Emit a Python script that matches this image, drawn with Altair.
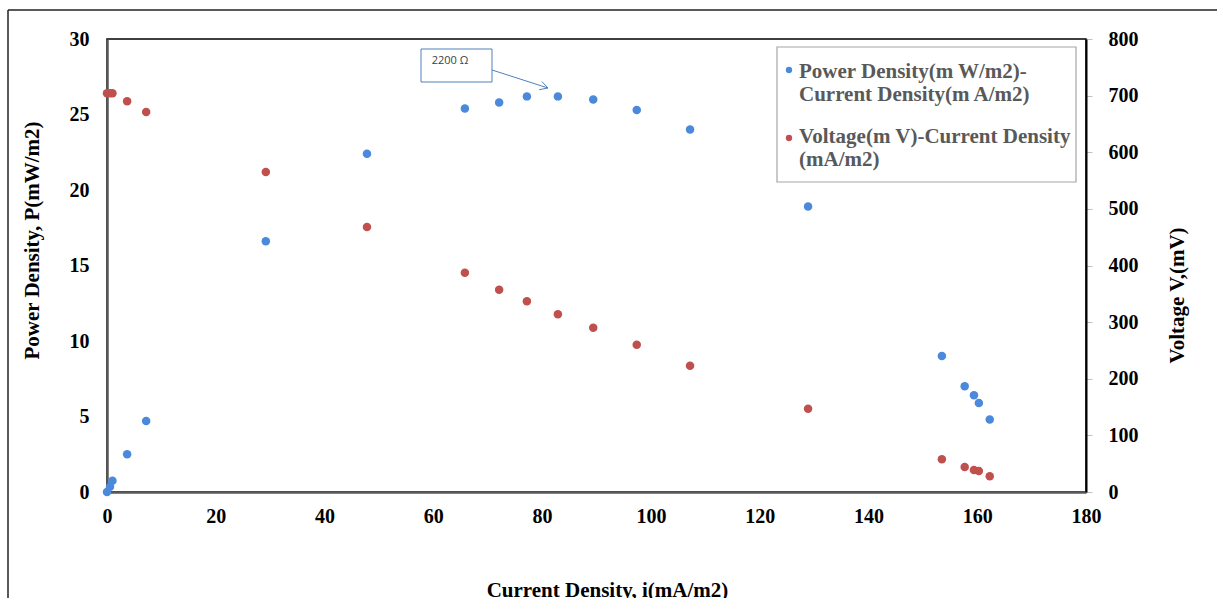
import math
import altair as alt
import pandas as pd

# ---- data ----
current = [0, 0.55, 1.0, 3.7, 7.2, 29.2, 47.8, 65.8, 72.1, 77.2, 82.9, 89.4,
           97.4, 107.2, 128.9, 153.5, 157.7, 159.4, 160.3, 162.3]
power = [0, 0.35, 0.75, 2.5, 4.7, 16.6, 22.4, 25.4, 25.8, 26.2, 26.2, 26.0,
         25.3, 24.0, 18.9, 9.0, 7.0, 6.4, 5.9, 4.8]
voltage = [704, 704, 704, 690, 671, 565, 468, 387, 357, 337, 314, 290,
           260, 223, 147, 58, 44, 39, 37, 28]

x_ticks = [0, 20, 40, 60, 80, 100, 120, 140, 160, 180]
p_ticks = [0, 5, 10, 15, 20, 25, 30]
v_ticks = [0, 100, 200, 300, 400, 500, 600, 700, 800]

legend_power = ["Power Density(m W/m2)-", "Current Density(m A/m2)"]
legend_voltage = ["Voltage(m V)-Current Density", "(mA/m2)"]
annotation_text = "2200 \u03a9"
x_title = "Current Density, i(mA/m2)"
yl_title = "Power Density, P(mW/m2)"
yr_title = "Voltage V,(mV)"

df = pd.DataFrame({"current": current, "power": power, "voltage": voltage})
one = pd.DataFrame({"k": [0]})

BLUE = "#4A89DC"
RED = "#C0504D"
FONT = "Liberation Serif"
W, H = 979, 453
LEG_FS = 21

x_enc = alt.X(
    "current:Q",
    scale=alt.Scale(domain=[0, 180], nice=False),
    axis=alt.Axis(values=x_ticks, title=x_title, ticks=False, grid=False,
                  labelFlush=False,
                  domainColor="#595959", domainWidth=2.5, labelPadding=14,
                  titleX=500, titleY=104, titleBaseline="alphabetic",
                  titleFontSize=21),
)

pts_p = alt.Chart(df).mark_circle(size=72, color=BLUE, opacity=1).encode(
    x=x_enc,
    y=alt.Y("power:Q", scale=alt.Scale(domain=[0, 30], nice=False),
            axis=alt.Axis(values=p_ticks, title=yl_title, orient="left",
                          ticks=False, grid=False, domainColor="#595959",
                          labelFlush=False,
                          domainWidth=2.5, labelPadding=18, titleX=-75,
                          titleY=201, titleAngle=270, titleBaseline="middle",
                          titleAlign="center")),
)

pts_v = alt.Chart(df).mark_circle(size=72, color=RED, opacity=1).encode(
    x=x_enc,
    y=alt.Y("voltage:Q", scale=alt.Scale(domain=[0, 800], nice=False),
            axis=alt.Axis(values=v_ticks, title=yr_title, orient="right",
                          ticks=True, tickSize=6, tickColor="#bfbfbf",
                          labelFlush=False,
                          grid=False, domainColor="black", domainWidth=2,
                          labelPadding=16, titleX=91, titleY=256,
                          titleAngle=270, titleBaseline="middle",
                          titleAlign="center")),
)

base = alt.Chart(one)

# outer frame (left and top lines)
frame_left = base.mark_rule(color="#222222", strokeWidth=1.5).encode(
    x=alt.value(-99), y=alt.value(-29), y2=alt.value(H + 110))
frame_top = base.mark_rule(color="#222222", strokeWidth=1.5).encode(
    x=alt.value(-99), x2=alt.value(1115), y=alt.value(-29))

# legend
leg_box = base.mark_rect(fill="white", stroke="#a6a6a6", strokeWidth=1.2).encode(
    x=alt.value(670), x2=alt.value(969), y=alt.value(8), y2=alt.value(143))
leg_sym_p = base.mark_circle(size=40, color=BLUE, opacity=1).encode(
    x=alt.value(682), y=alt.value(31))
leg_sym_v = base.mark_circle(size=40, color=RED, opacity=1).encode(
    x=alt.value(682), y=alt.value(99))
leg_texts = []
for i, line in enumerate(legend_power):
    leg_texts.append(base.mark_text(align="left", baseline="middle", font=FONT,
                                    fontSize=LEG_FS, fontWeight="bold",
                                    color="#595959").encode(
        x=alt.value(692), y=alt.value(33 + 23 * i), text=alt.value(line)))
for i, line in enumerate(legend_voltage):
    leg_texts.append(base.mark_text(align="left", baseline="middle", font=FONT,
                                    fontSize=LEG_FS, fontWeight="bold",
                                    color="#595959").encode(
        x=alt.value(692), y=alt.value(98 + 23 * i), text=alt.value(line)))

# annotation callout
ANN = "#4F81BD"
ann_box = base.mark_rect(fill="white", stroke=ANN, strokeWidth=1).encode(
    x=alt.value(314), x2=alt.value(385), y=alt.value(10), y2=alt.value(43))
ann_text = base.mark_text(align="center", baseline="middle", font="Open Sans",
                          fontSize=11, color="#404040").encode(
    x=alt.value(343), y=alt.value(22), text=alt.value(annotation_text))
sx, sy, tx, ty = 385, 31, 441, 49
ann_line = base.mark_rule(color=ANN, strokeWidth=1).encode(
    x=alt.value(sx), y=alt.value(sy), x2=alt.value(tx), y2=alt.value(ty))
ang = math.atan2(ty - sy, tx - sx)
heads = []
for d in (0.5, -0.5):
    hx = tx - 9 * math.cos(ang + d)
    hy = ty - 9 * math.sin(ang + d)
    heads.append(base.mark_rule(color=ANN, strokeWidth=1).encode(
        x=alt.value(tx), y=alt.value(ty), x2=alt.value(hx), y2=alt.value(hy)))

left_group = alt.layer(pts_p, frame_left, frame_top, ann_box, ann_text,
                       ann_line, *heads, leg_box, leg_sym_p, leg_sym_v,
                       *leg_texts)

chart = alt.layer(left_group, pts_v).resolve_scale(y="independent").properties(
    width=W, height=H,
    background="white",
    autosize=alt.AutoSizeParams(type="none"),
    padding={"left": 107, "top": 39, "right": 131, "bottom": 106},
).configure_view(stroke="black", strokeWidth=1.5).configure_axis(
    labelFont=FONT, labelFontSize=20, labelFontWeight="bold",
    labelColor="black", titleFont=FONT, titleFontSize=21,
    titleFontWeight="bold", titleColor="black",
)

chart.save("out.html", embed_options={"renderer": "svg", "actions": False})
